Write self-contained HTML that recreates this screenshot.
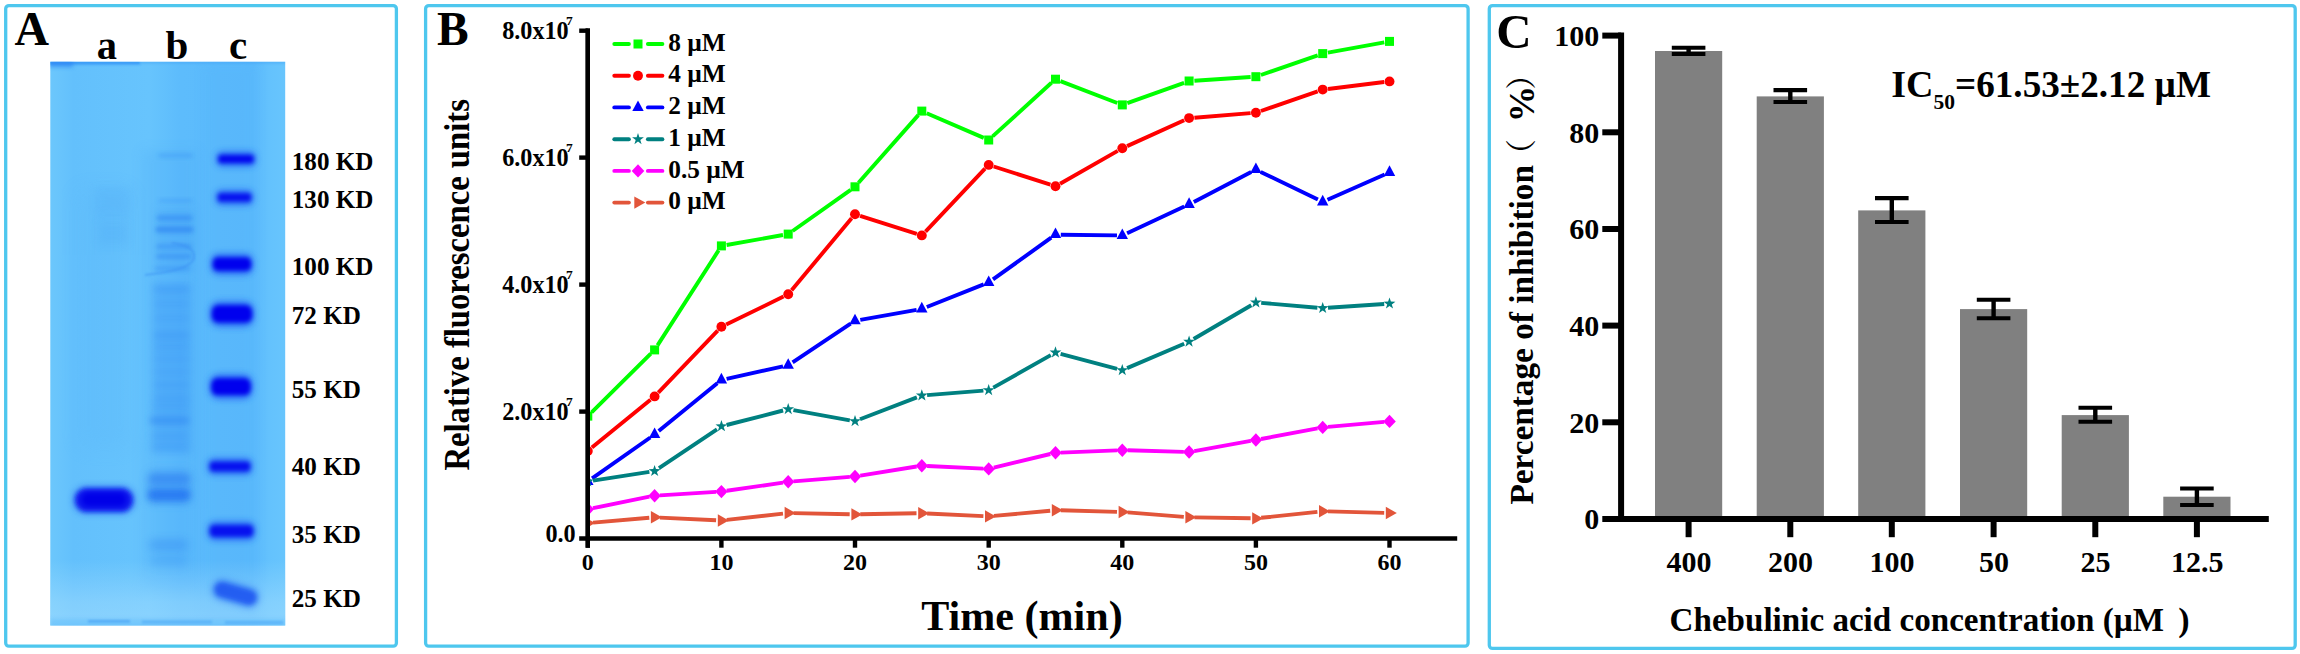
<!DOCTYPE html>
<html lang="en"><head><meta charset="utf-8"><title>Figure</title>
<style>
html,body{margin:0;padding:0;background:#fff;}
body{width:2300px;height:654px;overflow:hidden;}
svg{display:block;}
text{font-family:"Liberation Serif","Noto Serif CJK SC",serif;font-weight:bold;fill:#000;}
</style></head><body>
<svg width="2300" height="654" viewBox="0 0 2300 654">
<defs>
<filter id="b1" x="-30%" y="-100%" width="160%" height="300%"><feGaussianBlur stdDeviation="1"/></filter>
<filter id="b15" x="-30%" y="-100%" width="160%" height="300%"><feGaussianBlur stdDeviation="1.5"/></filter>
<filter id="b2" x="-30%" y="-100%" width="160%" height="300%"><feGaussianBlur stdDeviation="2"/></filter>
<filter id="b3" x="-30%" y="-100%" width="160%" height="300%"><feGaussianBlur stdDeviation="3"/></filter>
<filter id="b4" x="-30%" y="-100%" width="160%" height="300%"><feGaussianBlur stdDeviation="4"/></filter>
<filter id="b6" x="-30%" y="-100%" width="160%" height="300%"><feGaussianBlur stdDeviation="6"/></filter>
<filter id="b10" x="-30%" y="-100%" width="160%" height="300%"><feGaussianBlur stdDeviation="10"/></filter>
<linearGradient id="gelbg" x1="0" y1="0" x2="1" y2="0"><stop offset="0" stop-color="#6cc7fc"/><stop offset="0.10" stop-color="#63c0fc"/><stop offset="0.42" stop-color="#67c4fd"/><stop offset="0.55" stop-color="#5dbcfc"/><stop offset="0.86" stop-color="#5bbafc"/><stop offset="0.93" stop-color="#64c2fd"/><stop offset="1" stop-color="#68c5fd"/></linearGradient>
<linearGradient id="gelbot" x1="0" y1="0" x2="0" y2="1"><stop offset="0" stop-color="#a8e0ff" stop-opacity="0"/><stop offset="0.6" stop-color="#a8e0ff" stop-opacity="0.45"/><stop offset="0.9" stop-color="#a8e0ff" stop-opacity="0.55"/><stop offset="1" stop-color="#7fcbfc" stop-opacity="0.3"/></linearGradient>
<clipPath id="gelclip"><rect x="50.3" y="61.8" width="234.9" height="563.6"/></clipPath>
<clipPath id="plotB"><rect x="587.8" y="20" width="900" height="520"/></clipPath>
</defs>
<rect x="5.7" y="5.6" width="390.7" height="640.6" rx="3.2" ry="3.2" fill="none" stroke="#4ec7ee" stroke-width="3.3"/>
<rect x="425.6" y="5.6" width="1042.5" height="640.6" rx="3.2" ry="3.2" fill="none" stroke="#4ec7ee" stroke-width="3.3"/>
<rect x="1489.3" y="5.6" width="805.9" height="642.8" rx="3.2" ry="3.2" fill="none" stroke="#4ec7ee" stroke-width="3.3"/>
<g id="panelA">
<text x="14.6" y="45.2" font-size="47.8">A</text>
<text x="96.7" y="59.2" font-size="40.5">a</text>
<text x="165.5" y="59.2" font-size="41">b</text>
<text x="229" y="59.2" font-size="41">c</text>
<g clip-path="url(#gelclip)">
<rect x="50" y="61" width="236" height="566" fill="url(#gelbg)"/>
<rect x="142" y="150" width="56" height="440" fill="#4aa8f8" opacity="0.22" filter="url(#b6)"/>
<rect x="153" y="282" width="38" height="172" fill="#3f9cf7" opacity="0.42" filter="url(#b4)"/>
<rect x="157" y="208" width="37" height="66" fill="#3f9cf7" opacity="0.25" filter="url(#b4)"/>
<rect x="205" y="62" width="50" height="560" fill="#4eaefa" opacity="0.18" filter="url(#b6)"/>
<rect x="78" y="190" width="52" height="260" fill="#52b0f8" opacity="0.16" filter="url(#b10)"/>
<rect x="50" y="560" width="236" height="70" fill="url(#gelbot)"/>
<rect x="50" y="61" width="90" height="3.5" fill="#2b8cf5" opacity="0.75" filter="url(#b1)"/>
<rect x="140" y="61" width="146" height="2.5" fill="#3f9ff8" opacity="0.45" filter="url(#b1)"/>
<rect x="49" y="60" width="24" height="7" fill="#2f86f4" opacity="0.7" filter="url(#b2)"/>
<rect x="50" y="619" width="236" height="8" fill="#62bdfb" opacity="0.55" filter="url(#b2)"/>
<rect x="88" y="620" width="42" height="2.6" fill="#3f9af4" opacity="0.6" filter="url(#b1)"/>
<rect x="142" y="620.5" width="70" height="3" fill="#4aa3f5" opacity="0.5" filter="url(#b1)"/>
<rect x="225" y="621" width="58" height="3" fill="#4aa3f5" opacity="0.5" filter="url(#b1)"/>
<rect x="158.5" y="153.8" width="34" height="3.5" rx="1.8" fill="#2f86f2" opacity="0.4" filter="url(#b2)"/>
<rect x="158.5" y="199.1" width="34" height="3.0" rx="1.5" fill="#2f86f2" opacity="0.35" filter="url(#b2)"/>
<rect x="156.5" y="215.0" width="36" height="6.0" rx="3.0" fill="#2f86f2" opacity="0.55" filter="url(#b2)"/>
<rect x="155.5" y="226.2" width="38" height="6.5" rx="3.2" fill="#2f86f2" opacity="0.7" filter="url(#b2)"/>
<rect x="156.0" y="244.0" width="36" height="5.0" rx="2.5" fill="#2f86f2" opacity="0.45" filter="url(#b2)"/>
<rect x="156.0" y="254.0" width="36" height="5.0" rx="2.5" fill="#2f86f2" opacity="0.5" filter="url(#b2)"/>
<rect x="154.0" y="266.5" width="36" height="4.0" rx="2.0" fill="#2f86f2" opacity="0.4" filter="url(#b2)"/>
<rect x="153.5" y="286.0" width="36" height="6.0" rx="3.0" fill="#2f86f2" opacity="0.28" filter="url(#b3)"/>
<rect x="153.5" y="301.5" width="36" height="5.0" rx="2.5" fill="#2f86f2" opacity="0.17" filter="url(#b3)"/>
<rect x="153.5" y="315.5" width="36" height="5.0" rx="2.5" fill="#2f86f2" opacity="0.17" filter="url(#b3)"/>
<rect x="153.5" y="332.0" width="36" height="7.0" rx="3.5" fill="#2f86f2" opacity="0.28" filter="url(#b3)"/>
<rect x="153.5" y="344.5" width="36" height="5.0" rx="2.5" fill="#2f86f2" opacity="0.22" filter="url(#b3)"/>
<rect x="153.5" y="356.5" width="36" height="5.0" rx="2.5" fill="#2f86f2" opacity="0.19" filter="url(#b3)"/>
<rect x="153.5" y="369.5" width="36" height="5.0" rx="2.5" fill="#2f86f2" opacity="0.19" filter="url(#b3)"/>
<rect x="153.5" y="382.0" width="36" height="6.0" rx="3.0" fill="#2f86f2" opacity="0.22" filter="url(#b3)"/>
<rect x="153.5" y="395.0" width="36" height="6.0" rx="3.0" fill="#2f86f2" opacity="0.23" filter="url(#b3)"/>
<rect x="151.5" y="404.5" width="38" height="5.0" rx="2.5" fill="#2f86f2" opacity="0.22" filter="url(#b3)"/>
<rect x="149.5" y="416.5" width="40" height="8.0" rx="4.0" fill="#2f86f2" opacity="0.55" filter="url(#b3)"/>
<rect x="150.5" y="433.0" width="38" height="6.0" rx="3.0" fill="#2f86f2" opacity="0.22" filter="url(#b3)"/>
<rect x="150.5" y="444.0" width="38" height="6.0" rx="3.0" fill="#2f86f2" opacity="0.22" filter="url(#b3)"/>
<rect x="148.5" y="539.0" width="40" height="12.0" rx="6.0" fill="#2f86f2" opacity="0.4" filter="url(#b4)"/>
<rect x="149.5" y="556.0" width="38" height="10.0" rx="5.0" fill="#2f86f2" opacity="0.25" filter="url(#b4)"/>
<path d="M172 243 Q196 246 194 258 Q192 268 160 273 L145 275" fill="none" stroke="#3a90f3" stroke-width="2" opacity="0.55" filter="url(#b1)"/>
<rect x="147" y="470" width="44" height="34" rx="8" fill="#3a8ef4" opacity="0.45" filter="url(#b4)"/>
<rect x="149" y="474" width="41" height="10" rx="5" fill="#2a7cf0" opacity="0.50" filter="url(#b3)"/>
<rect x="147.5" y="489" width="43" height="12" rx="6" fill="#1f6df0" opacity="0.72" filter="url(#b3)"/>
<rect x="95" y="187" width="36" height="30" fill="#4ba6f7" opacity="0.20" filter="url(#b4)"/>
<rect x="98" y="222" width="30" height="22" fill="#4ba6f7" opacity="0.22" filter="url(#b4)"/>
<rect x="73" y="486" width="62" height="28" rx="13" fill="#1c50f2" opacity="0.55" filter="url(#b3)"/>
<rect x="75.5" y="488.5" width="57" height="23" rx="11.5" fill="#0a14ee" filter="url(#b2)"/>
<rect x="82" y="493" width="44" height="13" rx="6.5" fill="#0000e8" filter="url(#b2)"/>
<rect x="216.0" y="151.2" width="40" height="15.5" rx="6.0" fill="#2461f5" opacity="0.78" filter="url(#b3)"/>
<rect x="218.5" y="154.9" width="35" height="8.2" rx="3.1" fill="#0003ee" opacity="0.95" filter="url(#b2)"/>
<rect x="215.5" y="189.7" width="38" height="15.5" rx="6.0" fill="#2461f5" opacity="0.78" filter="url(#b3)"/>
<rect x="218.0" y="193.3" width="33" height="8.2" rx="3.1" fill="#0003ee" opacity="0.85" filter="url(#b2)"/>
<rect x="210.5" y="253.4" width="43" height="21.5" rx="8.3" fill="#2461f5" opacity="0.78" filter="url(#b3)"/>
<rect x="213.0" y="257.5" width="38" height="13.3" rx="5.1" fill="#0003ee" opacity="1.0" filter="url(#b2)"/>
<rect x="209.5" y="300.9" width="45" height="26.0" rx="10.0" fill="#2461f5" opacity="0.78" filter="url(#b3)"/>
<rect x="212.0" y="305.3" width="40" height="17.2" rx="6.6" fill="#0003ee" opacity="1.0" filter="url(#b2)"/>
<rect x="209.0" y="373.9" width="44" height="25.5" rx="9.8" fill="#2461f5" opacity="0.78" filter="url(#b3)"/>
<rect x="211.5" y="378.3" width="39" height="16.8" rx="6.4" fill="#0003ee" opacity="1.0" filter="url(#b2)"/>
<rect x="207.5" y="457.9" width="45" height="17.0" rx="6.5" fill="#2461f5" opacity="0.78" filter="url(#b3)"/>
<rect x="210.0" y="461.7" width="40" height="9.5" rx="3.6" fill="#0003ee" opacity="0.85" filter="url(#b2)"/>
<rect x="207.5" y="521.2" width="48" height="19.5" rx="7.5" fill="#2461f5" opacity="0.78" filter="url(#b3)"/>
<rect x="210.0" y="525.2" width="43" height="11.6" rx="4.5" fill="#0003ee" opacity="0.85" filter="url(#b2)"/>
<g transform="rotate(16 235.5 593.5)">
<rect x="211" y="582.5" width="49" height="22" rx="11" fill="#2f72f4" opacity="0.55" filter="url(#b3)"/>
<rect x="214" y="586" width="43" height="15" rx="7.5" fill="#164cf0" opacity="0.75" filter="url(#b2)"/>
</g>
</g>
<text x="291.8" y="170.0" font-size="25.1">180 KD</text>
<text x="291.8" y="207.6" font-size="25.1">130 KD</text>
<text x="291.8" y="275.3" font-size="25.1">100 KD</text>
<text x="291.8" y="324.2" font-size="25.1">72 KD</text>
<text x="291.8" y="398.4" font-size="25.1">55 KD</text>
<text x="291.8" y="475.3" font-size="25.1">40 KD</text>
<text x="291.8" y="543.3" font-size="25.1">35 KD</text>
<text x="291.8" y="606.7" font-size="25.1">25 KD</text>
</g>
<g id="panelB">
<text x="437" y="45" font-size="47.5">B</text>
<line x1="587.8" y1="28.5" x2="587.8" y2="547.7" stroke="#000" stroke-width="4.4"/>
<line x1="579.2" y1="538.5" x2="1457.2" y2="538.5" stroke="#000" stroke-width="4.4" stroke-linecap="butt"/>
<line x1="721.4" y1="538.5" x2="721.4" y2="547.7" stroke="#000" stroke-width="4.4"/>
<line x1="855.0" y1="538.5" x2="855.0" y2="547.7" stroke="#000" stroke-width="4.4"/>
<line x1="988.7" y1="538.5" x2="988.7" y2="547.7" stroke="#000" stroke-width="4.4"/>
<line x1="1122.3" y1="538.5" x2="1122.3" y2="547.7" stroke="#000" stroke-width="4.4"/>
<line x1="1255.9" y1="538.5" x2="1255.9" y2="547.7" stroke="#000" stroke-width="4.4"/>
<line x1="1389.5" y1="538.5" x2="1389.5" y2="547.7" stroke="#000" stroke-width="4.4"/>
<line x1="579.2" y1="411.6" x2="587.8" y2="411.6" stroke="#000" stroke-width="4.4"/>
<line x1="579.2" y1="284.6" x2="587.8" y2="284.6" stroke="#000" stroke-width="4.4"/>
<line x1="579.2" y1="157.6" x2="587.8" y2="157.6" stroke="#000" stroke-width="4.4"/>
<line x1="579.2" y1="30.7" x2="587.8" y2="30.7" stroke="#000" stroke-width="4.4"/>
<text x="587.8" y="569.6" font-size="24" text-anchor="middle">0</text>
<text x="721.4" y="569.6" font-size="24" text-anchor="middle">10</text>
<text x="855.0" y="569.6" font-size="24" text-anchor="middle">20</text>
<text x="988.7" y="569.6" font-size="24" text-anchor="middle">30</text>
<text x="1122.3" y="569.6" font-size="24" text-anchor="middle">40</text>
<text x="1255.9" y="569.6" font-size="24" text-anchor="middle">50</text>
<text x="1389.5" y="569.6" font-size="24" text-anchor="middle">60</text>
<text x="502.2" y="420.2" font-size="24.2">2.0x10<tspan font-size="13.5" dy="-13.9" dx="-2.6">7</tspan></text>
<text x="502.2" y="293.2" font-size="24.2">4.0x10<tspan font-size="13.5" dy="-13.9" dx="-2.6">7</tspan></text>
<text x="502.2" y="166.2" font-size="24.2">6.0x10<tspan font-size="13.5" dy="-13.9" dx="-2.6">7</tspan></text>
<text x="502.2" y="39.3" font-size="24.2">8.0x10<tspan font-size="13.5" dy="-13.9" dx="-2.6">7</tspan></text>
<text x="545.4" y="542.1" font-size="24.2">0.0</text>
<text transform="translate(469.3 470.6) rotate(-90)" font-size="36.3" textLength="371.5" lengthAdjust="spacingAndGlyphs">Relative fluorescence units</text>
<text x="921.3" y="630" font-size="41.5" textLength="201.4" lengthAdjust="spacingAndGlyphs">Time (min)</text>
<g clip-path="url(#plotB)">
<path d="M591.6 412.4L650.8 353.6M657.5 345.4L718.6 250.4M726.6 245.0L783.0 235.0M792.6 231.0L850.7 189.9M858.5 182.8L918.3 115.1M926.7 113.2L983.8 137.9M992.6 136.4L1051.5 82.8M1060.4 81.1L1117.3 103.0M1127.3 103.1L1184.1 82.8M1194.4 80.7L1250.6 77.0M1260.9 75.0L1317.7 55.3M1327.9 52.6L1384.3 42.4" fill="none" stroke="#00ff00" stroke-width="3.9"/>
<rect x="583.3" y="411.6" width="9.0" height="9.0" fill="#00ff00"/>
<rect x="650.1" y="345.4" width="9.0" height="9.0" fill="#00ff00"/>
<rect x="716.9" y="241.4" width="9.0" height="9.0" fill="#00ff00"/>
<rect x="783.7" y="229.6" width="9.0" height="9.0" fill="#00ff00"/>
<rect x="850.5" y="182.3" width="9.0" height="9.0" fill="#00ff00"/>
<rect x="917.3" y="106.6" width="9.0" height="9.0" fill="#00ff00"/>
<rect x="984.2" y="135.5" width="9.0" height="9.0" fill="#00ff00"/>
<rect x="1051.0" y="74.7" width="9.0" height="9.0" fill="#00ff00"/>
<rect x="1117.8" y="100.4" width="9.0" height="9.0" fill="#00ff00"/>
<rect x="1184.6" y="76.5" width="9.0" height="9.0" fill="#00ff00"/>
<rect x="1251.4" y="72.2" width="9.0" height="9.0" fill="#00ff00"/>
<rect x="1318.2" y="49.1" width="9.0" height="9.0" fill="#00ff00"/>
<rect x="1385.0" y="36.9" width="9.0" height="9.0" fill="#00ff00"/>
<path d="M591.9 447.6L650.5 399.8M658.3 392.6L717.7 330.6M726.2 324.5L783.5 296.6M791.6 290.2L851.6 218.3M860.1 215.8L916.8 233.8M925.5 231.6L985.0 168.7M993.7 166.5L1050.4 184.7M1060.1 183.7L1117.7 150.9M1127.1 146.1L1184.2 120.3M1194.4 117.7L1250.6 113.1M1260.9 111.0L1317.7 91.3M1328.0 89.0L1384.2 82.0" fill="none" stroke="#ff0000" stroke-width="3.9"/>
<circle cx="587.8" cy="451.0" r="4.95" fill="#ff0000"/>
<circle cx="654.6" cy="396.4" r="4.95" fill="#ff0000"/>
<circle cx="721.4" cy="326.8" r="4.95" fill="#ff0000"/>
<circle cx="788.2" cy="294.3" r="4.95" fill="#ff0000"/>
<circle cx="855.0" cy="214.2" r="4.95" fill="#ff0000"/>
<circle cx="921.8" cy="235.4" r="4.95" fill="#ff0000"/>
<circle cx="988.7" cy="164.9" r="4.95" fill="#ff0000"/>
<circle cx="1055.5" cy="186.3" r="4.95" fill="#ff0000"/>
<circle cx="1122.3" cy="148.3" r="4.95" fill="#ff0000"/>
<circle cx="1189.1" cy="118.1" r="4.95" fill="#ff0000"/>
<circle cx="1255.9" cy="112.7" r="4.95" fill="#ff0000"/>
<circle cx="1322.7" cy="89.6" r="4.95" fill="#ff0000"/>
<circle cx="1389.5" cy="81.4" r="4.95" fill="#ff0000"/>
<path d="M592.1 478.4L650.3 437.5M658.7 431.1L717.3 383.3M726.6 378.8L783.0 366.4M792.6 362.4L850.6 323.7M860.3 319.9L916.6 309.8M926.8 307.0L983.7 284.4M993.0 279.4L1051.2 237.7M1060.8 234.7L1117.0 235.4M1127.1 233.3L1184.3 206.6M1193.8 202.0L1251.2 172.0M1260.7 171.9L1317.9 199.6M1327.5 199.8L1384.7 174.5" fill="none" stroke="#0000ff" stroke-width="3.9"/>
<path d="M587.8 474.3 L593.5 484.9 L582.1 484.9 Z" fill="#0000ff"/>
<path d="M654.6 427.4 L660.3 438.0 L648.9 438.0 Z" fill="#0000ff"/>
<path d="M721.4 372.8 L727.1 383.4 L715.7 383.4 Z" fill="#0000ff"/>
<path d="M788.2 358.2 L793.9 368.8 L782.5 368.8 Z" fill="#0000ff"/>
<path d="M855.0 313.7 L860.7 324.3 L849.3 324.3 Z" fill="#0000ff"/>
<path d="M921.8 301.8 L927.5 312.4 L916.1 312.4 Z" fill="#0000ff"/>
<path d="M988.7 275.4 L994.4 286.0 L983.0 286.0 Z" fill="#0000ff"/>
<path d="M1055.5 227.5 L1061.2 238.1 L1049.8 238.1 Z" fill="#0000ff"/>
<path d="M1122.3 228.4 L1128.0 239.0 L1116.6 239.0 Z" fill="#0000ff"/>
<path d="M1189.1 197.3 L1194.8 207.9 L1183.4 207.9 Z" fill="#0000ff"/>
<path d="M1255.9 162.5 L1261.6 173.1 L1250.2 173.1 Z" fill="#0000ff"/>
<path d="M1322.7 194.8 L1328.4 205.4 L1317.0 205.4 Z" fill="#0000ff"/>
<path d="M1389.5 165.3 L1395.2 175.9 L1383.8 175.9 Z" fill="#0000ff"/>
<path d="M593.0 480.6L649.4 471.9M659.0 468.1L717.0 429.3M726.6 425.0L783.1 410.5M793.4 410.1L849.8 420.3M860.0 419.3L916.9 397.4M927.1 395.1L983.4 390.6M993.3 387.6L1050.8 355.1M1060.6 353.9L1117.1 368.8M1127.1 368.1L1184.2 343.8M1193.6 339.0L1251.3 305.2M1261.2 302.9L1317.4 307.7M1328.0 307.7L1384.2 304.0" fill="none" stroke="#008080" stroke-width="3.9"/>
<polygon points="587.8,475.2 589.2,479.4 593.7,479.5 590.1,482.2 591.4,486.4 587.8,483.8 584.2,486.4 585.5,482.2 581.9,479.5 586.4,479.4" fill="#008080"/>
<polygon points="654.6,464.9 656.0,469.1 660.5,469.2 656.9,471.9 658.3,476.1 654.6,473.6 651.0,476.1 652.3,471.9 648.7,469.2 653.2,469.1" fill="#008080"/>
<polygon points="721.4,420.1 722.9,424.3 727.3,424.4 723.7,427.1 725.1,431.3 721.4,428.8 717.8,431.3 719.1,427.1 715.5,424.4 720.0,424.3" fill="#008080"/>
<polygon points="788.2,403.0 789.7,407.2 794.1,407.3 790.6,410.0 791.9,414.2 788.2,411.6 784.6,414.2 785.9,410.0 782.3,407.3 786.8,407.2" fill="#008080"/>
<polygon points="855.0,415.0 856.5,419.2 860.9,419.3 857.4,422.0 858.7,426.2 855.0,423.6 851.4,426.2 852.7,422.0 849.1,419.3 853.6,419.2" fill="#008080"/>
<polygon points="921.8,389.3 923.3,393.5 927.7,393.6 924.2,396.3 925.5,400.5 921.8,397.9 918.2,400.5 919.5,396.3 915.9,393.6 920.4,393.5" fill="#008080"/>
<polygon points="988.7,384.0 990.1,388.2 994.5,388.3 991.0,391.0 992.3,395.2 988.7,392.6 985.0,395.2 986.3,391.0 982.8,388.3 987.2,388.2" fill="#008080"/>
<polygon points="1055.5,346.3 1056.9,350.5 1061.4,350.6 1057.8,353.3 1059.1,357.5 1055.5,354.9 1051.8,357.5 1053.1,353.3 1049.6,350.6 1054.0,350.5" fill="#008080"/>
<polygon points="1122.3,364.0 1123.7,368.2 1128.2,368.3 1124.6,371.0 1125.9,375.2 1122.3,372.6 1118.6,375.2 1119.9,371.0 1116.4,368.3 1120.8,368.2" fill="#008080"/>
<polygon points="1189.1,335.5 1190.5,339.7 1195.0,339.8 1191.4,342.5 1192.7,346.7 1189.1,344.1 1185.4,346.7 1186.7,342.5 1183.2,339.8 1187.6,339.7" fill="#008080"/>
<polygon points="1255.9,296.3 1257.3,300.5 1261.8,300.6 1258.2,303.3 1259.5,307.5 1255.9,304.9 1252.2,307.5 1253.6,303.3 1250.0,300.6 1254.4,300.5" fill="#008080"/>
<polygon points="1322.7,301.9 1324.1,306.1 1328.6,306.2 1325.0,308.9 1326.3,313.1 1322.7,310.6 1319.0,313.1 1320.4,308.9 1316.8,306.2 1321.3,306.1" fill="#008080"/>
<polygon points="1389.5,297.4 1390.9,301.6 1395.4,301.7 1391.8,304.4 1393.1,308.6 1389.5,306.1 1385.9,308.6 1387.2,304.4 1383.6,301.7 1388.1,301.6" fill="#008080"/>
<path d="M593.0 508.2L649.4 496.7M659.9 495.4L716.1 491.9M726.7 490.8L783.0 482.6M793.5 481.4L849.8 476.9M860.3 475.7L916.6 466.5M927.1 466.0L983.4 468.6M993.8 467.7L1050.3 454.0M1060.8 452.6L1117.0 450.4M1127.6 450.3L1183.8 451.9M1194.3 451.1L1250.7 440.9M1261.1 439.0L1317.5 428.4M1328.0 426.9L1384.2 421.9" fill="none" stroke="#ff00ff" stroke-width="3.9"/>
<path d="M587.8 502.5 L594.1 509.2 L587.8 515.9 L581.5 509.2 Z" fill="#ff00ff"/>
<path d="M654.6 489.0 L660.9 495.7 L654.6 502.4 L648.3 495.7 Z" fill="#ff00ff"/>
<path d="M721.4 484.9 L727.7 491.6 L721.4 498.3 L715.1 491.6 Z" fill="#ff00ff"/>
<path d="M788.2 475.1 L794.5 481.8 L788.2 488.5 L781.9 481.8 Z" fill="#ff00ff"/>
<path d="M855.0 469.8 L861.3 476.5 L855.0 483.2 L848.7 476.5 Z" fill="#ff00ff"/>
<path d="M921.8 459.0 L928.1 465.7 L921.8 472.4 L915.5 465.7 Z" fill="#ff00ff"/>
<path d="M988.7 462.2 L995.0 468.9 L988.7 475.6 L982.4 468.9 Z" fill="#ff00ff"/>
<path d="M1055.5 446.1 L1061.8 452.8 L1055.5 459.5 L1049.2 452.8 Z" fill="#ff00ff"/>
<path d="M1122.3 443.5 L1128.6 450.2 L1122.3 456.9 L1116.0 450.2 Z" fill="#ff00ff"/>
<path d="M1189.1 445.3 L1195.4 452.0 L1189.1 458.7 L1182.8 452.0 Z" fill="#ff00ff"/>
<path d="M1255.9 433.3 L1262.2 440.0 L1255.9 446.7 L1249.6 440.0 Z" fill="#ff00ff"/>
<path d="M1322.7 420.7 L1329.0 427.4 L1322.7 434.1 L1316.4 427.4 Z" fill="#ff00ff"/>
<path d="M1389.5 414.7 L1395.8 421.4 L1389.5 428.1 L1383.2 421.4 Z" fill="#ff00ff"/>
<path d="M593.1 522.6L649.3 517.8M659.9 517.6L716.1 520.2M726.7 519.9L783.0 513.6M793.5 513.1L849.7 514.3M860.3 514.3L916.5 513.3M927.1 513.5L983.4 516.1M993.9 515.9L1050.2 510.7M1060.8 510.3L1117.0 511.9M1127.6 512.4L1183.8 516.9M1194.4 517.4L1250.6 518.3M1261.2 517.8L1317.4 511.9M1328.0 511.4L1384.2 512.9" fill="none" stroke="#e2553a" stroke-width="3.9"/>
<path d="M584.1 516.9 L595.1 523.1 L584.1 529.3 Z" fill="#e2553a"/>
<path d="M650.9 511.1 L661.9 517.3 L650.9 523.5 Z" fill="#e2553a"/>
<path d="M717.8 514.3 L728.8 520.5 L717.8 526.7 Z" fill="#e2553a"/>
<path d="M784.6 506.8 L795.6 513.0 L784.6 519.2 Z" fill="#e2553a"/>
<path d="M851.4 508.2 L862.4 514.4 L851.4 520.6 Z" fill="#e2553a"/>
<path d="M918.2 507.0 L929.2 513.2 L918.2 519.4 Z" fill="#e2553a"/>
<path d="M985.0 510.2 L996.0 516.4 L985.0 522.6 Z" fill="#e2553a"/>
<path d="M1051.8 504.0 L1062.8 510.2 L1051.8 516.4 Z" fill="#e2553a"/>
<path d="M1118.6 505.8 L1129.6 512.0 L1118.6 518.2 Z" fill="#e2553a"/>
<path d="M1185.4 511.1 L1196.4 517.3 L1185.4 523.5 Z" fill="#e2553a"/>
<path d="M1252.2 512.2 L1263.2 518.4 L1252.2 524.6 Z" fill="#e2553a"/>
<path d="M1319.0 505.1 L1330.0 511.3 L1319.0 517.5 Z" fill="#e2553a"/>
<path d="M1385.8 506.8 L1396.8 513.0 L1385.8 519.2 Z" fill="#e2553a"/>
</g>
<line x1="587.8" y1="28.5" x2="587.8" y2="547.7" stroke="#000" stroke-width="4.4"/>
<line x1="614.3" y1="44.0" x2="628.9" y2="44.0" stroke="#00ff00" stroke-width="3.9" stroke-linecap="round"/>
<line x1="647.9" y1="44.0" x2="662.4" y2="44.0" stroke="#00ff00" stroke-width="3.9" stroke-linecap="round"/>
<rect x="633.5" y="39.5" width="9.0" height="9.0" fill="#00ff00"/>
<text x="668.3" y="50.6" font-size="25.3">8 µM</text>
<line x1="614.3" y1="75.7" x2="628.9" y2="75.7" stroke="#ff0000" stroke-width="3.9" stroke-linecap="round"/>
<line x1="647.9" y1="75.7" x2="662.4" y2="75.7" stroke="#ff0000" stroke-width="3.9" stroke-linecap="round"/>
<circle cx="638.0" cy="75.7" r="4.95" fill="#ff0000"/>
<text x="668.3" y="82.3" font-size="25.3">4 µM</text>
<line x1="614.3" y1="107.4" x2="628.9" y2="107.4" stroke="#0000ff" stroke-width="3.9" stroke-linecap="round"/>
<line x1="647.9" y1="107.4" x2="662.4" y2="107.4" stroke="#0000ff" stroke-width="3.9" stroke-linecap="round"/>
<path d="M638.0 100.4 L643.7 111.0 L632.3 111.0 Z" fill="#0000ff"/>
<text x="668.3" y="114.0" font-size="25.3">2 µM</text>
<line x1="614.3" y1="139.2" x2="628.9" y2="139.2" stroke="#008080" stroke-width="3.9" stroke-linecap="round"/>
<line x1="647.9" y1="139.2" x2="662.4" y2="139.2" stroke="#008080" stroke-width="3.9" stroke-linecap="round"/>
<polygon points="638.0,133.0 639.4,137.2 643.9,137.2 640.3,139.9 641.6,144.2 638.0,141.6 634.4,144.2 635.7,139.9 632.1,137.2 636.6,137.2" fill="#008080"/>
<text x="668.3" y="145.8" font-size="25.3">1 µM</text>
<line x1="614.3" y1="170.9" x2="628.9" y2="170.9" stroke="#ff00ff" stroke-width="3.9" stroke-linecap="round"/>
<line x1="647.9" y1="170.9" x2="662.4" y2="170.9" stroke="#ff00ff" stroke-width="3.9" stroke-linecap="round"/>
<path d="M638.0 164.2 L644.3 170.9 L638.0 177.6 L631.7 170.9 Z" fill="#ff00ff"/>
<text x="668.3" y="177.5" font-size="25.3">0.5 µM</text>
<line x1="614.3" y1="202.6" x2="628.9" y2="202.6" stroke="#e2553a" stroke-width="3.9" stroke-linecap="round"/>
<line x1="647.9" y1="202.6" x2="662.4" y2="202.6" stroke="#e2553a" stroke-width="3.9" stroke-linecap="round"/>
<path d="M634.3 196.4 L645.3 202.6 L634.3 208.8 Z" fill="#e2553a"/>
<text x="668.3" y="209.2" font-size="25.3">0 µM</text>
</g>
<g id="panelC">
<text x="1496.3" y="47.5" font-size="49">C</text>
<rect x="1655.0" y="51.0" width="67.2" height="466.0" fill="#808080"/>
<rect x="1756.7" y="96.4" width="67.2" height="420.6" fill="#808080"/>
<rect x="1858.2" y="210.4" width="67.2" height="306.6" fill="#808080"/>
<rect x="1960.0" y="309.1" width="67.2" height="207.9" fill="#808080"/>
<rect x="2061.7" y="415.1" width="67.2" height="101.9" fill="#808080"/>
<rect x="2163.3" y="496.7" width="67.2" height="20.3" fill="#808080"/>
<line x1="1688.6" y1="47.7" x2="1688.6" y2="54.0" stroke="#000" stroke-width="4.4"/>
<line x1="1671.8" y1="47.7" x2="1705.4" y2="47.7" stroke="#000" stroke-width="4.1"/>
<line x1="1671.8" y1="54.0" x2="1705.4" y2="54.0" stroke="#000" stroke-width="4.1"/>
<line x1="1790.3" y1="90.1" x2="1790.3" y2="102.0" stroke="#000" stroke-width="4.4"/>
<line x1="1773.5" y1="90.1" x2="1807.1" y2="90.1" stroke="#000" stroke-width="4.1"/>
<line x1="1773.5" y1="102.0" x2="1807.1" y2="102.0" stroke="#000" stroke-width="4.1"/>
<line x1="1891.8" y1="198.1" x2="1891.8" y2="222.0" stroke="#000" stroke-width="4.4"/>
<line x1="1875.0" y1="198.1" x2="1908.6" y2="198.1" stroke="#000" stroke-width="4.1"/>
<line x1="1875.0" y1="222.0" x2="1908.6" y2="222.0" stroke="#000" stroke-width="4.1"/>
<line x1="1993.6" y1="299.7" x2="1993.6" y2="318.3" stroke="#000" stroke-width="4.4"/>
<line x1="1976.8" y1="299.7" x2="2010.4" y2="299.7" stroke="#000" stroke-width="4.1"/>
<line x1="1976.8" y1="318.3" x2="2010.4" y2="318.3" stroke="#000" stroke-width="4.1"/>
<line x1="2095.3" y1="407.8" x2="2095.3" y2="421.8" stroke="#000" stroke-width="4.4"/>
<line x1="2078.5" y1="407.8" x2="2112.1" y2="407.8" stroke="#000" stroke-width="4.1"/>
<line x1="2078.5" y1="421.8" x2="2112.1" y2="421.8" stroke="#000" stroke-width="4.1"/>
<line x1="2196.9" y1="488.5" x2="2196.9" y2="505.0" stroke="#000" stroke-width="4.4"/>
<line x1="2180.1" y1="488.5" x2="2213.7" y2="488.5" stroke="#000" stroke-width="4.1"/>
<line x1="2180.1" y1="505.0" x2="2213.7" y2="505.0" stroke="#000" stroke-width="4.1"/>
<line x1="1621.1" y1="32.6" x2="1621.1" y2="522" stroke="#000" stroke-width="6"/>
<line x1="1602.3" y1="519.0" x2="2268.8" y2="519.0" stroke="#000" stroke-width="6"/>
<line x1="1602.3" y1="422.3" x2="1621.1" y2="422.3" stroke="#000" stroke-width="6"/>
<line x1="1602.3" y1="325.6" x2="1621.1" y2="325.6" stroke="#000" stroke-width="6"/>
<line x1="1602.3" y1="229.0" x2="1621.1" y2="229.0" stroke="#000" stroke-width="6"/>
<line x1="1602.3" y1="132.3" x2="1621.1" y2="132.3" stroke="#000" stroke-width="6"/>
<line x1="1602.3" y1="35.6" x2="1621.1" y2="35.6" stroke="#000" stroke-width="6"/>
<line x1="1688.6" y1="519.0" x2="1688.6" y2="537.2" stroke="#000" stroke-width="6"/>
<line x1="1790.3" y1="519.0" x2="1790.3" y2="537.2" stroke="#000" stroke-width="6"/>
<line x1="1891.8" y1="519.0" x2="1891.8" y2="537.2" stroke="#000" stroke-width="6"/>
<line x1="1993.6" y1="519.0" x2="1993.6" y2="537.2" stroke="#000" stroke-width="6"/>
<line x1="2095.3" y1="519.0" x2="2095.3" y2="537.2" stroke="#000" stroke-width="6"/>
<line x1="2196.9" y1="519.0" x2="2196.9" y2="537.2" stroke="#000" stroke-width="6"/>
<text x="1599.2" y="529.3" font-size="30" text-anchor="end">0</text>
<text x="1599.2" y="432.6" font-size="30" text-anchor="end">20</text>
<text x="1599.2" y="335.9" font-size="30" text-anchor="end">40</text>
<text x="1599.2" y="239.3" font-size="30" text-anchor="end">60</text>
<text x="1599.2" y="142.6" font-size="30" text-anchor="end">80</text>
<text x="1599.2" y="45.9" font-size="30" text-anchor="end">100</text>
<text x="1688.9" y="571.6" font-size="30" text-anchor="middle">400</text>
<text x="1790.6" y="571.6" font-size="30" text-anchor="middle">200</text>
<text x="1892.1" y="571.6" font-size="30" text-anchor="middle">100</text>
<text x="1993.9" y="571.6" font-size="30" text-anchor="middle">50</text>
<text x="2095.6" y="571.6" font-size="30" text-anchor="middle">25</text>
<text x="2197.2" y="571.6" font-size="30" text-anchor="middle">12.5</text>
<text x="1669.6" y="630.8" font-size="34" textLength="494.4" lengthAdjust="spacingAndGlyphs">Chebulinic acid concentration (µM</text>
<text x="2178.2" y="630.8" font-size="34">)</text>
<text transform="translate(1533.4 504.6) rotate(-90)" font-size="34" textLength="339.5" lengthAdjust="spacingAndGlyphs">Percentage of inhibition</text>
<text transform="translate(1532.0 170) rotate(-90)" font-size="31" style="font-weight:500">（</text>
<text transform="translate(1534.0 122.3) rotate(-90)" font-size="36.5">%</text>
<text transform="translate(1532.0 89.7) rotate(-90)" font-size="31" style="font-weight:500">）</text>
<text x="1891.3" y="97.2" font-size="38">IC<tspan font-size="21.5" dy="12.2">50</tspan><tspan dy="-12.2" textLength="256" lengthAdjust="spacingAndGlyphs">=61.53±2.12 µM</tspan></text>
</g>
</svg></body></html>
